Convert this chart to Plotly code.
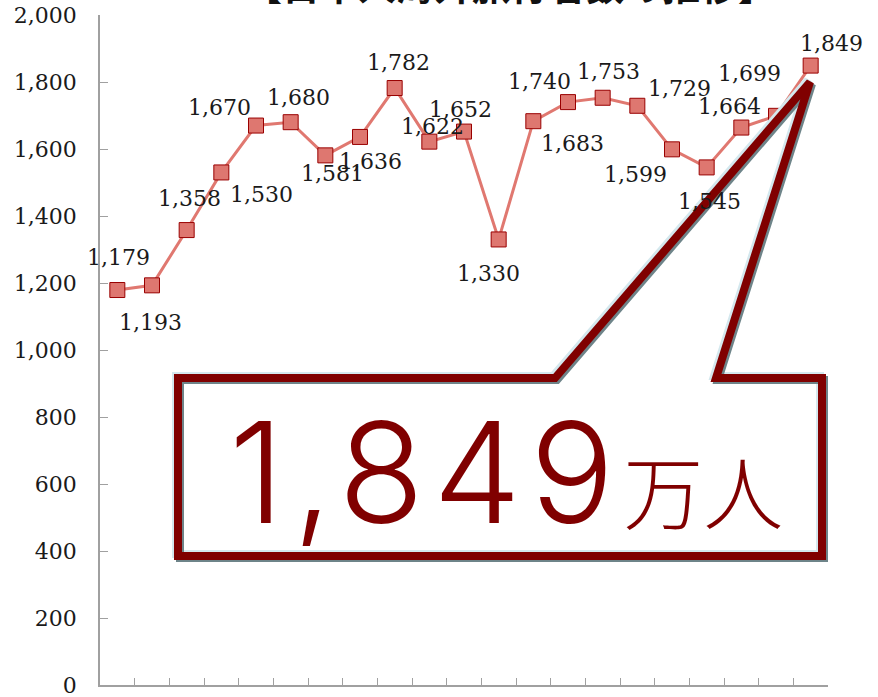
import plotly.graph_objects as go

# ---- data ----
categories = [f"{y}年" for y in range(1992, 2013)]
values = [1179, 1193, 1358, 1530, 1670, 1680, 1581, 1636, 1782, 1622, 1652,
          1330, 1683, 1740, 1753, 1729, 1599, 1545, 1664, 1699, 1849]
y_ticks = [0, 200, 400, 600, 800, 1000, 1200, 1400, 1600, 1800, 2000]
title_text = "【日本人海外旅行者数の推移】"
callout_number = "1,849"
callout_unit = "万人"

# label offsets (pixels) relative to each marker
label_dx = [1, -2, 3, 40, -37, 8, 7, 10, 4, 3, -4, -10, 39, -29, 6, 42, -37, 3, -12, -27, 21]
label_dy = [-33, 37, -32, 22, -18, -25, 18, 25, -26, -15, -22, 34, 22, -21, -26, -17, 25, 34, -21, -42, -22]

W, H = 878, 697
PL, PR, PT, PB = 100, 828, 15, 685   # plot area in page pixels
L, R, T, B = PL, W - PR, PT, H - PB


def px(x):
    return (x - PL) / (PR - PL)


def py(y):
    return (PB - y) / (PB - PT)


fig = go.Figure()
fig.add_trace(go.Scatter(
    x=categories, y=values, mode="lines+markers",
    line=dict(color="#E07870", width=3),
    marker=dict(symbol="square", size=15, color="#DE7770",
                line=dict(color="#990000", width=1)),
    hoverinfo="skip", showlegend=False,
))

annotations = []
for c, v, dx, dy in zip(categories, values, label_dx, label_dy):
    annotations.append(dict(
        x=c, y=v, xref="x", yref="y", text=f"{v:,}", showarrow=False,
        xshift=dx, yshift=-dy, xanchor="center", yanchor="middle",
        font=dict(family="DejaVu Serif", size=22, color="#1a1a1a"),
    ))

# title (mostly cut off at top)
annotations.append(dict(
    x=px(510), y=py(13), xref="paper", yref="paper", text=title_text,
    showarrow=False, xanchor="center", yanchor="bottom",
    font=dict(family="Noto Sans CJK JP", size=38, color="#111111", weight=700),
))

# big callout text
annotations.append(dict(
    x=px(506), y=py(472), xref="paper", yref="paper",
    text=(f"<span style='letter-spacing:9px'>{callout_number}</span>"
          f"<span style='font-size:80px;font-family:\"Noto Sans CJK JP\"'>{callout_unit}</span>"),
    showarrow=False, xanchor="center", yanchor="middle",
    font=dict(family="Inter", size=140, color="#800000", weight=300),
))

# callout outline (page pixel path -> paper)
pts = [(178, 378), (555, 378), (810, 82), (716, 378), (822, 378), (822, 556), (178, 556)]


def path(off_x=0, off_y=0):
    s = ""
    for i, (x, y) in enumerate(pts):
        s += ("M" if i == 0 else "L") + f"{px(x + off_x):.5f},{py(y + off_y):.5f} "
    return s + "Z"


shapes = [
    dict(type="path", path=path(), xref="paper", yref="paper",
         fillcolor="white", line=dict(width=0), layer="above"),
    dict(type="path", path=path(-2, -2), xref="paper", yref="paper",
         line=dict(color="#D4E8EE", width=8), layer="above"),
    dict(type="path", path=path(2, 2), xref="paper", yref="paper",
         line=dict(color="#6E8489", width=8), layer="above"),
    dict(type="path", path=path(), xref="paper", yref="paper",
         line=dict(color="#800000", width=8), layer="above"),
]

fig.update_layout(
    width=W, height=H,
    margin=dict(l=L, r=R, t=T, b=B, autoexpand=False),
    paper_bgcolor="white", plot_bgcolor="white",
    annotations=annotations, shapes=shapes,
    xaxis=dict(
        type="category", showticklabels=False, showgrid=False, zeroline=False,
        showline=True, linecolor="#A0A0A0", linewidth=1.5,
        ticks="inside", tickson="boundaries", ticklen=7, tickcolor="#A0A0A0",
        tickwidth=1.2, range=[-0.5, 20.5],
    ),
    yaxis=dict(
        range=[0, 2000], tickvals=y_ticks, tickformat=",",
        showgrid=False, zeroline=False, showline=True, linecolor="#A0A0A0",
        linewidth=1.5, ticks="inside", ticklen=8, tickcolor="#A0A0A0", tickwidth=1.2,
        tickfont=dict(family="DejaVu Serif", size=22, color="#1a1a1a"),
        ticklabelstandoff=17, ticklabeloverflow="allow",
    ),
)

# remove the default page margin so the figure sits at the window's corner
fig.write_html("out.html", config={"displayModeBar": False},
               post_script="document.body.style.margin='0';")
